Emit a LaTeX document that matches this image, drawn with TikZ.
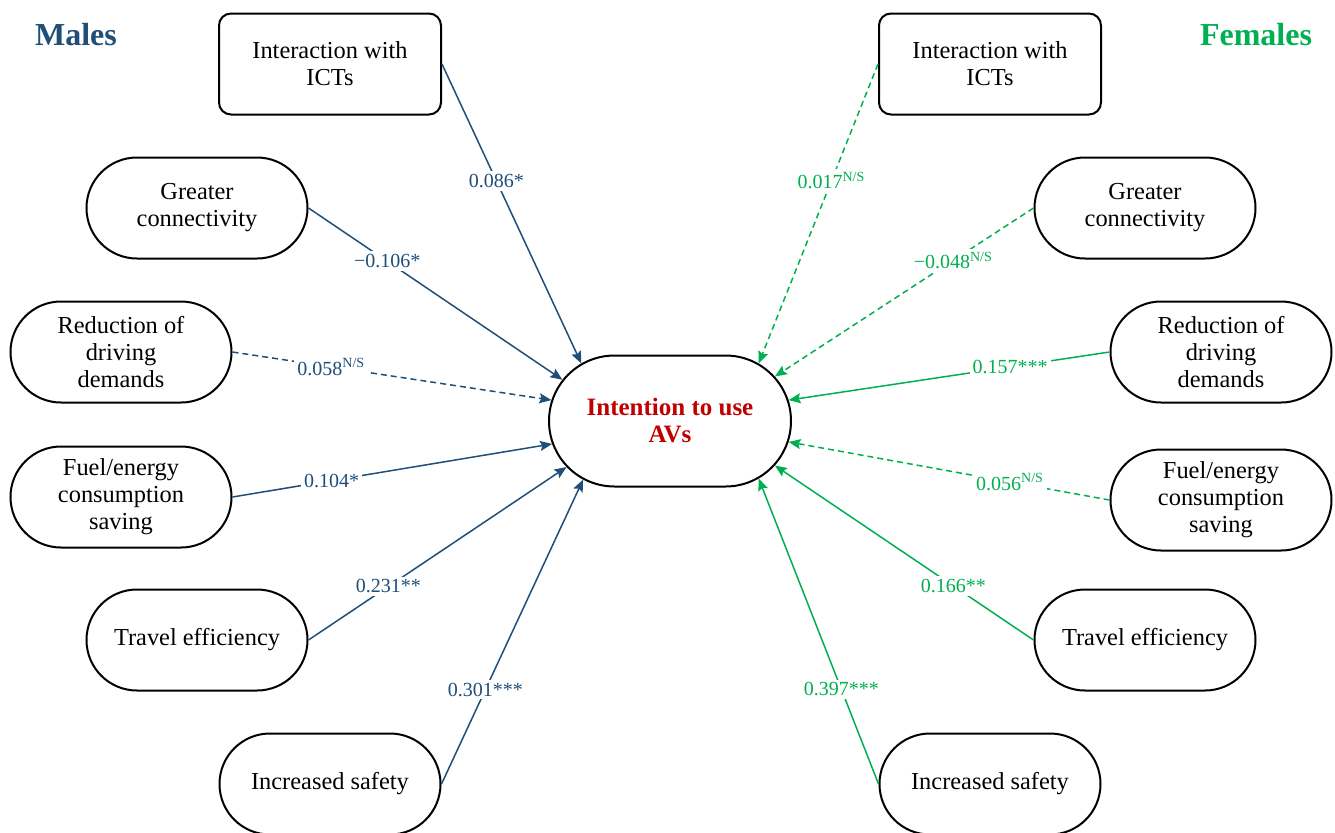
\documentclass[tikz,border=0pt]{standalone}
\usepackage{fontspec}
\setmainfont{Liberation Serif}
\usepackage{tikz}
\usetikzlibrary{shapes.misc, arrows.meta}

\definecolor{maleblue}{RGB}{31,78,121}
\definecolor{femgreen}{RGB}{0,176,80}
\definecolor{avred}{RGB}{192,0,0}

\begin{document}
\begin{tikzpicture}[x=0.5pt, y=-0.5pt,
   factorbox/.style={draw, rounded rectangle, line width=1pt, minimum width=114.5pt, minimum height=50.5pt, inner sep=2pt, align=center, font=\fontsize{12.2}{13.5}\selectfont},
   ictbox/.style={factorbox, rectangle, minimum width=111pt, rounded corners=6pt},
   targetbox/.style={draw, rounded rectangle, line width=1pt, minimum width=125pt, minimum height=65.5pt, inner sep=2pt, align=center, text=avred, font=\fontsize{12.5}{13.5}\selectfont\bfseries},
   arrow/.style={-{Stealth[length=6pt, width=5pt, inset=1pt]}, line width=0.75pt},
   dasharrow/.style={arrow, dash pattern=on 3pt off 2pt},
   coef/.style={fill=white, inner sep=1.5pt, pos=0.31, font=\fontsize{10}{12}\selectfont},
   grouptitle/.style={font=\fontsize{16}{19}\selectfont\bfseries}
]
\useasboundingbox (0,0) rectangle (1335,832);

% Nodes
\node [targetbox] (intent) at (670,421) {Intention to use\\AVs};

\node [grouptitle, text=maleblue] (males) at (76,35) {Males};
\node [ictbox] (mict) at (330,64) {Interaction with\\ICTs};
\node [factorbox] (mcon) at (197,208) {Greater\\connectivity};
\node [factorbox] (mred) at (121,352) {Reduction of\\driving\\demands};
\node [factorbox] (mfuel) at (121,497) {Fuel/energy\\consumption\\saving};
\node [factorbox] (mtrav) at (197,640) {Travel efficiency};
\node [factorbox] (msafe) at (330,784) {Increased safety};

\node [grouptitle, text=femgreen] (females) at (1256,35) {Females};
\node [ictbox] (fict) at (990,64) {Interaction with\\ICTs};
\node [factorbox] (fcon) at (1145,208) {Greater\\connectivity};
\node [factorbox] (fred) at (1221,352) {Reduction of\\driving\\demands};
\node [factorbox] (ffuel) at (1221,500) {Fuel/energy\\consumption\\saving};
\node [factorbox] (ftrav) at (1145,640) {Travel efficiency};
\node [factorbox] (fsafe) at (990,784) {Increased safety};

% Males paths
\draw [arrow, maleblue] (mict.east) -- node[coef, pos=0.39, text=maleblue] {0.086*} (intent.147);
\draw [arrow, maleblue] (mcon.east) -- node[coef, text=maleblue] {−0.106*} (intent.159);
\draw [dasharrow, maleblue] (mred.east) -- node[coef, text=maleblue] {0.058\textsuperscript{N/S}} (intent.170);
\draw [arrow, maleblue] (mfuel.east) -- node[coef, text=maleblue] {0.104*} (intent.191);
\draw [arrow, maleblue] (mtrav.east) -- node[coef, text=maleblue] {0.231**} (intent.204);
\draw [arrow, maleblue] (msafe.east) -- node[coef, text=maleblue] {0.301***} (intent.214);

% Females paths
\draw [dasharrow, femgreen] (fict.west) -- node[coef, pos=0.39, text=femgreen] {0.017\textsuperscript{N/S}} (intent.33);
\draw [dasharrow, femgreen] (fcon.west) -- node[coef, text=femgreen] {−0.048\textsuperscript{N/S}} (intent.23);
\draw [arrow, femgreen] (fred.west) -- node[coef, text=femgreen] {0.157***} (intent.10);
\draw [dasharrow, femgreen] (ffuel.west) -- node[coef, text=femgreen] {0.056\textsuperscript{N/S}} (intent.-10);
\draw [arrow, femgreen] (ftrav.west) -- node[coef, text=femgreen] {0.166**} (intent.-23);
\draw [arrow, femgreen] (fsafe.west) -- node[coef, text=femgreen] {0.397***} (intent.-33);

\end{tikzpicture}
\end{document}
